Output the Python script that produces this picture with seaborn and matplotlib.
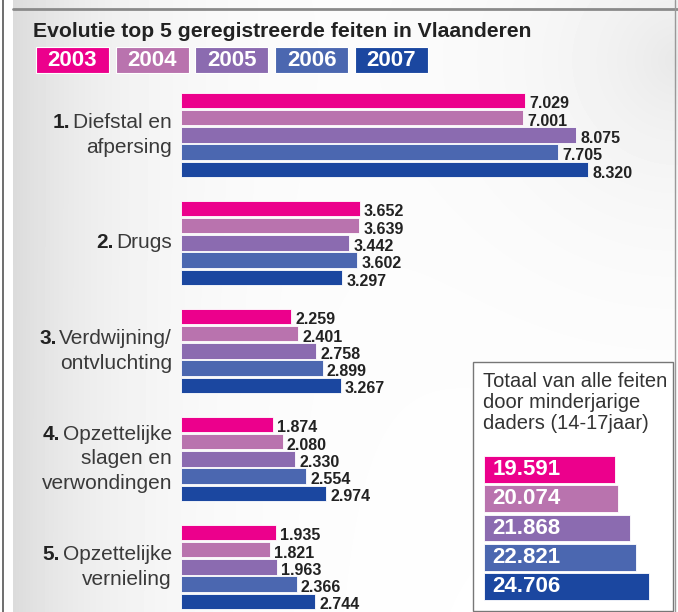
import numpy as np
import pandas as pd
import matplotlib
matplotlib.use("Agg")
import matplotlib.pyplot as plt
import matplotlib.patches as patches
from matplotlib.transforms import blended_transform_factory, ScaledTranslation
import seaborn as sns

# ============================================================================
# DATA
# ============================================================================

years = ["2003", "2004", "2005", "2006", "2007"]
categories = ["Diefstal en afpersing", "Drugs", "Verdwijning/ontvluchting",
              "Opzettelijke slagen en verwondingen", "Opzettelijke vernieling"]
cat_numbers = ["1.", "2.", "3.", "4.", "5."]
cat_lines = [["Diefstal en", "afpersing"],
             ["Drugs"],
             ["Verdwijning/", "ontvluchting"],
             ["Opzettelijke", "slagen en", "verwondingen"],
             ["Opzettelijke", "vernieling"]]

diefstal = [7029, 7001, 8075, 7705, 8320]
drugs = [3652, 3639, 3442, 3602, 3297]
verdwijning = [2259, 2401, 2758, 2899, 3267]
slagen = [1874, 2080, 2330, 2554, 2974]
vernieling = [1935, 1821, 1963, 2366, 2744]

totals = [19591, 20074, 21868, 22821, 24706]

palette = ["#EC008C", "#B973AE", "#8B6BB0", "#4B67B0", "#1B47A0"]

title = "Evolutie top 5 geregistreerde feiten in Vlaanderen"
inset_title = "Totaal van alle feiten\ndoor minderjarige\ndaders (14-17jaar)"

rows = []
for cat, vals in zip(categories, [diefstal, drugs, verdwijning, slagen, vernieling]):
    for y, v in zip(years, vals):
        rows.append({"feit": cat, "jaar": y, "aantal": v})
df = pd.DataFrame(rows)


def fmt(v):
    return f"{v:,}".replace(",", ".")


# ============================================================================
# STYLE
# ============================================================================

sns.set_style("white")
plt.rcParams["font.family"] = ["Liberation Sans", "DejaVu Sans"]

W, H = 678, 612
fig = plt.figure(figsize=(W / 100, H / 100), dpi=100)
fig.patch.set_facecolor("white")

# soft grey background gradient
bg = fig.add_axes([0, 0, 1, 1], zorder=-5)
xx, yy = np.meshgrid(np.arange(W), np.arange(H))
shade = 0.14 * np.exp(-np.clip(xx - 13, 0, None) / 110.0)
shade += 0.09 * np.exp(-np.hypot(xx - W, yy - 60) / 140.0)
img = 1 - shade
img[:, :13] = 1
bg.imshow(img, cmap="gray", vmin=0, vmax=1, extent=(0, W, H, 0), aspect="auto")
bg.plot([13, W], [9, 9], color="#8a8a8a", lw=2)
bg.plot([3, 3], [0, H], color="#555555", lw=1.2)
bg.plot([W - 3, W - 3], [0, H], color="#999999", lw=1)
bg.set_xlim(0, W)
bg.set_ylim(H, 0)
bg.axis("off")

# title and year legend
fig.text(33 / W, 1 - 37 / H, title, fontsize=15.2, fontweight="bold",
         color="#222222", va="baseline")
for i, (yr, col) in enumerate(zip(years, palette)):
    x0 = 36 + i * 79.7
    fig.patches.append(patches.Rectangle((x0 / W, 1 - 73 / H), 73 / W, 26 / H,
                                         transform=fig.transFigure, facecolor=col,
                                         edgecolor="white", lw=0.8, zorder=1))
    fig.text((x0 + 36.5) / W, 1 - 60.5 / H, yr, color="white", fontsize=16,
             fontweight="bold", ha="center", va="center", zorder=3)

# ============================================================================
# MAIN PLOT
# ============================================================================

ax = fig.add_axes([181 / W, 0, 489 / W, 532 / H], zorder=0)
ax.set_facecolor("none")
sns.barplot(data=df, x="aantal", y="feit", hue="jaar", palette=palette,
            orient="h", width=0.8, gap=0.1, saturation=1, edgecolor="white",
            linewidth=0.6, legend=False, ax=ax)

for cont, yr in zip(ax.containers, years):
    for bar, v in zip(cont, df[df["jaar"] == yr]["aantal"]):
        ax.annotate(fmt(v), xy=(bar.get_width(), bar.get_y() + bar.get_height() / 2),
                    xytext=(3, -2.5), textcoords="offset points", ha="left",
                    va="center", fontsize=11.5, fontweight="bold", color="#222222")

ax.set_xlim(0, 10000)
ax.set_ylim(4.417, -0.509)
ax.set_yticks([])
ax.set_xticks([])
ax.set(xlabel="", ylabel="")
sns.despine(ax=ax, left=True, bottom=True)

# category labels: one text per line, bold number before the first line
trans = blended_transform_factory(ax.transAxes, ax.transData)
for i, (num, lines) in enumerate(zip(cat_numbers, cat_lines)):
    n = len(lines)
    first = None
    for k, line in enumerate(lines):
        dy = -((k - (n - 1) / 2) * 24.5) / 100
        t = ax.text(-9 / 489, i, line, transform=trans + ScaledTranslation(0, dy, fig.dpi_scale_trans),
                    ha="right", va="center", fontsize=15, color="#3a3a3a")
        if first is None:
            first = t
    ax.annotate(num, xy=(0, 0.5), xycoords=first, xytext=(-2, 0),
                textcoords="offset points", ha="right", va="center",
                fontsize=15, fontweight="bold", color="#222222")

# ============================================================================
# INSET: TOTALS
# ============================================================================

fig.patches.append(patches.Rectangle((473 / W, 1 - 611 / H), 200 / W, 249 / H,
                                     transform=fig.transFigure, facecolor="white",
                                     edgecolor="#777777", lw=1, zorder=1))
fig.text(483 / W, 1 - 372 / H, inset_title, fontsize=14.5, color="#333333",
         va="top", ha="left", linespacing=1.12, zorder=3)

ax2 = fig.add_axes([484 / W, 11 / H, 187 / W, 146 / H], zorder=2)
ax2.set_facecolor("none")
sns.barplot(x=totals, y=years, hue=years, palette=palette, orient="h",
            width=0.92, saturation=1, edgecolor="white", linewidth=0.6,
            legend=False, ax=ax2)
for bar, v in zip(ax2.patches, totals):
    ax2.annotate(fmt(v), xy=(0, bar.get_y() + bar.get_height() / 2),
                 xytext=(6, 0), textcoords="offset points", ha="left", va="center",
                 fontsize=16, fontweight="bold", color="white")
ax2.set_xlim(0, 28000)
ax2.set_ylim(4.5, -0.5)
ax2.axis("off")

plt.savefig("out.png", dpi=100)
